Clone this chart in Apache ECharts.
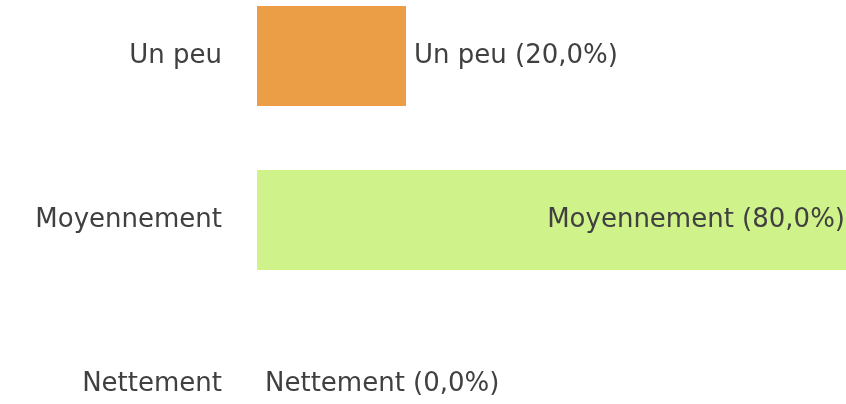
<!DOCTYPE html>
<html><head><meta charset="utf-8">
<script src="https://cdn.jsdelivr.net/npm/echarts@6/dist/echarts.min.js"></script>
<style>html,body{margin:0;padding:0;background:#fff}#c{width:846px;height:404px}</style>
</head><body><div id="c"></div>
<script>
const categories = ['Nettement', 'Moyennement', 'Un peu'];
const values = [0, 80, 20];
const colors = ['#4a90d9', '#D0F28A', '#EB9E45'];
const labelPos = ['right', 'insideRight', 'right'];

const chart = echarts.init(document.getElementById('c'));
const font = '"DejaVu Sans", sans-serif';
chart.setOption({
  animation: false,
  grid: { left: 257, right: -7, top: -26, bottom: -62, containLabel: false, outerBoundsMode: 'none' },
  xAxis: { type: 'value', min: 0, max: 80, show: false },
  yAxis: {
    type: 'category', data: categories,
    axisLine: { show: false }, axisTick: { show: false },
    axisLabel: { color: '#404040', fontSize: 26, fontFamily: font, margin: 35 }
  },
  series: [{
    type: 'bar', barWidth: 100,
    data: values.map((v, i) => ({
      value: v,
      itemStyle: { color: colors[i] },
      label: { position: labelPos[i] }
    })),
    label: {
      show: true, distance: 8, color: '#404040', fontSize: 26, fontFamily: font,
      formatter: p => p.name + ' (' + p.value.toFixed(1).replace('.', ',') + '%)'
    }
  }]
});
</script></body></html>
